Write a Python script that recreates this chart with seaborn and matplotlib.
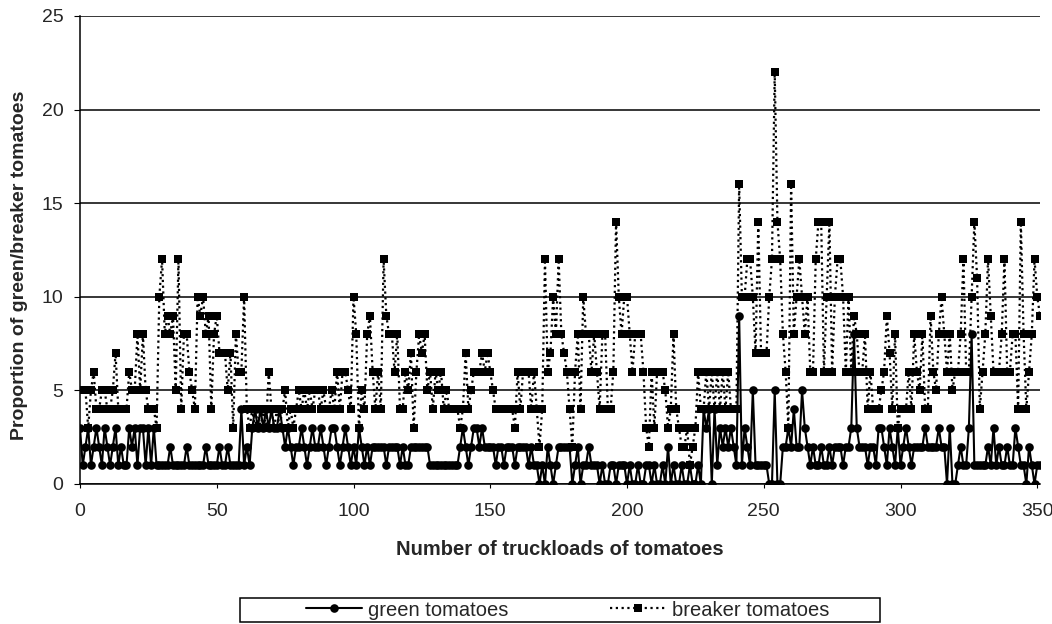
import numpy as np
import pandas as pd
import matplotlib
matplotlib.use("Agg")
import matplotlib.pyplot as plt
from matplotlib.patches import Rectangle
import seaborn as sns

# Data (truckload index 0..351)
breaker = [
    5, 5, 5, 3, 5, 6, 4, 4, 5, 5,
    4, 4, 5, 7, 4, 4, 4, 4, 6, 5,
    5, 8, 5, 8, 5, 4, 4, 4, 3, 10,
    12, 8, 9, 8, 9, 5, 12, 4, 8, 8,
    6, 5, 4, 10, 9, 10, 8, 9, 4, 8,
    9, 7, 7, 7, 5, 7, 3, 8, 6, 6,
    10, 4, 3, 4, 3, 4, 3, 4, 3, 6,
    4, 3, 4, 3, 4, 5, 3, 4, 3, 4,
    5, 4, 5, 4, 5, 4, 5, 5, 4, 5,
    4, 4, 5, 4, 6, 4, 6, 6, 5, 4,
    10, 8, 3, 5, 4, 8, 9, 6, 4, 6,
    4, 12, 9, 8, 8, 6, 8, 4, 4, 6,
    5, 7, 3, 6, 8, 7, 8, 5, 6, 4,
    6, 5, 6, 4, 5, 4, 4, 4, 4, 3,
    4, 7, 4, 5, 6, 6, 6, 7, 6, 7,
    6, 5, 4, 4, 4, 4, 4, 4, 4, 3,
    6, 4, 6, 6, 6, 4, 6, 4, 2, 4,
    12, 6, 7, 10, 8, 12, 8, 7, 6, 4,
    2, 6, 8, 4, 10, 8, 8, 6, 8, 6,
    4, 8, 8, 4, 4, 6, 14, 10, 8, 10,
    10, 8, 6, 8, 8, 8, 6, 3, 2, 6,
    3, 6, 6, 6, 5, 3, 4, 8, 4, 3,
    2, 2, 3, 1, 2, 3, 6, 4, 4, 6,
    4, 6, 4, 6, 4, 6, 4, 6, 4, 4,
    4, 16, 10, 10, 12, 12, 10, 7, 14, 7,
    7, 7, 10, 12, 22, 14, 12, 8, 6, 3,
    16, 8, 10, 12, 10, 8, 10, 6, 6, 12,
    14, 14, 6, 10, 14, 6, 10, 12, 12, 10,
    6, 10, 6, 9, 8, 6, 6, 8, 4, 6,
    4, 4, 4, 5, 6, 9, 7, 4, 8, 3,
    4, 4, 4, 6, 4, 8, 6, 5, 8, 4,
    4, 9, 6, 5, 8, 10, 8, 6, 8, 5,
    6, 6, 8, 12, 6, 6, 10, 14, 11, 4,
    6, 8, 12, 9, 6, 6, 6, 8, 12, 6,
    6, 8, 8, 4, 14, 8, 4, 6, 8, 12,
    10, 9,
]

green = [
    3, 1, 2, 3, 1, 2, 3, 2, 1, 3,
    2, 1, 2, 3, 1, 2, 1, 1, 3, 2,
    3, 1, 3, 3, 1, 3, 1, 3, 1, 1,
    1, 1, 1, 2, 1, 1, 1, 1, 1, 2,
    1, 1, 1, 1, 1, 1, 2, 1, 1, 1,
    1, 2, 1, 1, 2, 1, 1, 1, 1, 4,
    1, 2, 1, 3, 4, 3, 4, 3, 4, 3,
    4, 3, 3, 4, 3, 2, 3, 2, 1, 2,
    2, 3, 2, 1, 2, 3, 2, 2, 3, 2,
    1, 2, 3, 3, 2, 1, 2, 3, 2, 1,
    2, 1, 3, 2, 1, 2, 1, 2, 2, 2,
    2, 2, 1, 2, 2, 2, 2, 1, 2, 1,
    1, 2, 2, 2, 2, 2, 2, 2, 1, 1,
    1, 1, 1, 1, 1, 1, 1, 1, 1, 2,
    3, 2, 1, 2, 3, 3, 2, 3, 2, 2,
    2, 2, 1, 2, 2, 1, 2, 2, 2, 1,
    2, 2, 2, 2, 1, 2, 1, 1, 0, 1,
    0, 2, 1, 0, 1, 2, 2, 2, 2, 2,
    0, 1, 2, 0, 1, 1, 2, 1, 1, 1,
    0, 1, 0, 0, 1, 1, 0, 1, 1, 1,
    0, 1, 0, 0, 1, 0, 0, 1, 1, 0,
    1, 0, 0, 1, 0, 2, 0, 1, 0, 0,
    1, 0, 0, 1, 0, 0, 1, 0, 4, 3,
    4, 0, 4, 1, 3, 2, 3, 2, 3, 2,
    1, 9, 1, 3, 2, 1, 5, 1, 1, 1,
    1, 1, 0, 0, 5, 0, 0, 2, 2, 3,
    2, 4, 2, 2, 5, 3, 2, 1, 2, 1,
    1, 2, 1, 1, 2, 1, 2, 2, 2, 1,
    2, 2, 3, 8, 3, 2, 2, 2, 1, 2,
    2, 1, 3, 3, 2, 1, 3, 2, 1, 3,
    1, 2, 3, 2, 1, 2, 2, 2, 2, 3,
    2, 2, 2, 2, 3, 2, 2, 0, 3, 0,
    0, 1, 2, 1, 1, 3, 8, 1, 1, 1,
    1, 1, 2, 1, 3, 1, 2, 1, 1, 2,
    1, 1, 3, 2, 1, 1, 0, 2, 1, 0,
    1, 1,
]

truckload = np.arange(len(green))
df = pd.DataFrame({"truckload": truckload, "green": green, "breaker": breaker})

sns.set_style("white")
plt.rcParams['font.family'] = ['Liberation Sans', 'DejaVu Sans']

W, H = 1052, 624
fig = plt.figure(figsize=(W / 100, H / 100), dpi=100)
ax = fig.add_axes([80 / W, 1 - 484 / H, 960 / W, 468 / H])

sns.lineplot(data=df, x="truckload", y="breaker", ax=ax, color="black",
             linestyle=(0, (1, 1.6)), linewidth=1.6, marker="s", markersize=6,
             markeredgewidth=0, label="breaker tomatoes", zorder=2)
sns.lineplot(data=df, x="truckload", y="green", ax=ax, color="black",
             linewidth=1.5, marker="o", markersize=6.2, markeredgewidth=0,
             label="green tomatoes", zorder=3)

ax.set_xlim(0, 351)
ax.set_ylim(0, 25)
ax.set_xticks(range(0, 351, 50))
ax.set_yticks(range(0, 26, 5))
ax.yaxis.grid(True, color="black", linewidth=1.1)
ax.set_axisbelow(True)
for s in ["top", "right"]:
    ax.spines[s].set_visible(False)
for s in ["left", "bottom"]:
    ax.spines[s].set_color("black")
    ax.spines[s].set_linewidth(1.1)
ax.tick_params(axis="y", direction="out", length=4, color="black",
               labelsize=14, pad=8, left=True)
ax.tick_params(axis="x", direction="out", length=3, color="black",
               labelsize=14, pad=11, bottom=True)

ax.set_xlabel("Number of truckloads of tomatoes", fontsize=14.5,
              fontweight="bold")
ax.set_ylabel("Proportion of green/breaker tomatoes", fontsize=14,
              fontweight="bold")
ax.xaxis.set_label_coords(0.5, (484 - 540) / 468)
ax.yaxis.set_label_coords((28 - 80) / 960, 0.5 - 15 / 468)

handles, labels = ax.get_legend_handles_labels()
order = [labels.index("green tomatoes"), labels.index("breaker tomatoes")]
ax.get_legend().remove()
fig.legend([handles[i] for i in order], [labels[i] for i in order],
           loc="center left", bbox_to_anchor=(296 / W, 1 - 610 / H),
           ncol=2, frameon=False, fontsize=14.5, handlelength=2.8,
           handletextpad=0.3, columnspacing=5.0, borderpad=0)
fig.add_artist(Rectangle((240 / W, 1 - 622 / H), 640 / W, 24 / H,
                         transform=fig.transFigure, fill=False,
                         edgecolor="black", linewidth=1.1))

fig.savefig("out.png", dpi=100)
